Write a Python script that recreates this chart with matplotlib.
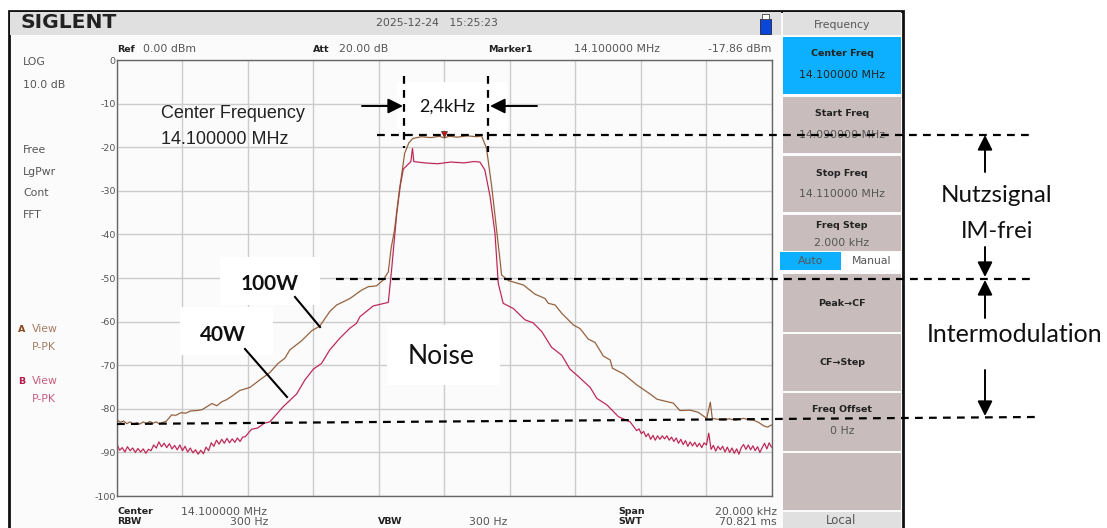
"""plot.py - spectrum analyzer screenshot of a 14.1 MHz SSB signal at 40 W and 100 W."""

import numpy as np
import matplotlib
matplotlib.use("Agg")
import matplotlib.pyplot as plt
from matplotlib.patches import Rectangle

W, H = 1107, 528

# trace A (100 W): offset from center in kHz / level in dBm
A_NOISE_L = [-82.5, -83.1, -82.8, -83.4, -83.0, -83.6, -83.2, -83.5, -83.0, -83.4,
             -82.9, -83.3, -83.0, -83.5, -83.1]
A_KHZ = [-8.5, -8.33, -8.2, -8.05, -7.9, -7.75, -7.56, -7.4, -7.25, -7.1, -6.95, -6.8, -6.65,
         -6.45, -6.25, -5.94, -5.64, -5.33, -5.08, -4.87, -4.72, -4.36, -4.05, -3.8, -3.5,
         -3.29, -2.88, -2.53, -2.32, -2.07, -1.87, -1.71, -1.62, -1.52, -1.37, -1.21, -1.08,
         -0.96, -0.7, -0.4, -0.15, 0.0, 0.15, 0.4, 0.7, 1.0, 1.14, 1.29, 1.45, 1.6, 1.72,
         1.75, 1.96, 2.42, 2.77, 3.08, 3.18, 3.39, 3.59, 3.95, 4.15, 4.4, 4.61, 4.86, 5.07,
         5.14, 5.48, 5.88, 6.29, 6.5, 7.0, 7.2, 7.51, 7.76, 8.02, 8.13, 8.19, 8.35, 8.53,
         8.7, 8.9, 9.14, 9.3, 9.45, 9.6, 9.76, 9.88, 10.0]
A_DBM = [-82.9, -81.4, -81.5, -80.9, -81.0, -80.5, -80.4, -80.2, -79.5, -78.8, -79.3, -78.4,
         -77.9, -76.9, -75.8, -75.1, -73.4, -71.7, -69.6, -68.4, -66.5, -64.4, -62.1, -61.0,
         -57.7, -56.2, -54.7, -52.8, -52.0, -51.8, -50.5, -48.6, -43.0, -39.0, -30.0, -21.4,
         -19.0, -18.0, -17.6, -17.8, -17.5, -17.86, -17.5, -17.7, -17.4, -17.6, -17.4, -20.2,
         -29.0, -39.0, -47.0, -49.3, -50.6, -51.6, -53.7, -54.7, -55.8, -56.2, -58.1, -60.8,
         -61.6, -64.0, -64.8, -67.9, -68.8, -70.7, -72.0, -74.5, -76.6, -77.8, -78.7, -80.4,
         -80.3, -80.8, -82.2, -78.5, -82.2, -82.4, -82.6, -82.3, -82.6, -82.2, -82.5, -82.6,
         -83.1, -83.9, -84.2, -83.7]

# trace B (40 W)
B_NOISE_L = [-88.2, -89.5, -88.9, -89.9, -88.7, -89.6, -89.0, -90.0, -89.1, -89.9,
             -89.2, -90.2, -89.3, -89.6, -88.3, -89.0, -87.6, -88.7, -87.9, -88.9,
             -88.0, -89.2, -88.4, -89.4, -88.3, -89.6, -88.6, -89.9, -89.0, -90.1,
             -89.4, -90.4, -89.5, -90.3, -88.8, -89.6, -87.8, -88.6, -87.2, -88.1,
             -87.0, -87.9, -86.8, -87.8, -86.9, -87.7, -86.7, -87.5, -86.5, -86.4, -85.7]
B_KHZ = [-5.89, -5.7, -5.5, -5.33, -4.92, -4.51, -4.26, -4.0, -3.75, -3.5, -3.19, -2.88, -2.68,
         -2.58, -2.17, -1.71, -1.66, -1.61, -1.45, -1.35, -1.25, -1.02, -0.97, -0.93,
         -0.6, -0.2, 0.2, 0.6, 0.9, 1.09, 1.24, 1.4, 1.55, 1.65, 1.8, 2.11, 2.47, 2.72,
         2.98, 3.28, 3.59, 3.84, 4.1, 4.46, 4.66, 4.97, 5.32, 5.68]
B_DBM = [-84.7, -84.4, -83.3, -83.0, -79.5, -76.6, -73.4, -70.9, -69.6, -66.5, -63.8, -61.5,
         -60.4, -58.9, -56.4, -55.6, -52.0, -48.2, -35.0, -29.0, -25.0, -23.3, -20.3, -23.3,
         -23.6, -23.8, -23.4, -23.6, -23.3, -23.4, -25.2, -31.3, -39.7, -51.2, -55.8, -57.0,
         -59.6, -60.3, -62.3, -65.9, -67.7, -70.9, -72.6, -75.1, -77.6, -79.1, -81.8, -83.0]
B_NOISE_R = [-85.0, -84.6, -85.7, -85.2, -86.4, -85.7, -87.0, -86.1, -87.2, -86.2,
             -87.0, -86.2, -86.9, -86.2, -87.2, -86.5, -87.5, -86.7, -87.9, -87.0,
             -88.2, -87.3, -88.6, -87.6, -88.5, -87.7, -88.7, -87.9, -88.9, -87.8,
             -88.3, -85.6, -89.3, -88.4, -89.7, -88.6, -89.4, -88.6, -89.9, -88.8, -90.0,
             -89.0, -90.2, -89.2, -90.4, -88.9, -88.2, -89.3, -88.3, -89.4, -88.5,
             -89.6, -88.7, -90.0, -88.9, -87.9, -89.2, -87.8, -88.8]

Y_TICKS = [0, -10, -20, -30, -40, -50, -60, -70, -80, -90, -100]
X_TICKS = [-10, -8, -6, -4, -2, 0, 2, 4, 6, 8, 10]

SIDE_LABELS = ["LOG", "10.0 dB", "Free", "LgPwr", "Cont", "FFT"]
SOFTKEYS = [("Center Freq", "14.100000 MHz"), ("Start Freq", "14.090000 MHz"),
            ("Stop Freq", "14.110000 MHz"), ("Freq Step", "2.000 kHz"),
            ("Peak→CF", ""), ("CF→Step", ""), ("Freq Offset", "0 Hz"), ("", "")]

BROWN = "#8a5530"
RED = "#b8184a"
SCREEN = "#fbfbfb"
BAR = "#e0e0e0"
KEY = "#c8bcbc"
BLUE = "#0cb0ff"
INK = "#555555"
DARK = "#222222"


def screen_text(ax, x, y, s, size=7.8, color=INK, ha="left", weight="normal"):
    ax.text(x, y, s, fontsize=size, color=color, ha=ha, va="center", fontweight=weight)


def bold_text(ax, x, y, s, ha="left", color=DARK):
    screen_text(ax, x, y, s, size=6.8, color=color, ha=ha, weight="bold")


def main():
    plt.rcParams["axes.unicode_minus"] = False
    fig = plt.figure(figsize=(W / 100, H / 100), dpi=100, facecolor="white")

    # instrument screen, pixel coordinates
    bg = fig.add_axes([0, 0, 1, 1], zorder=0)
    bg.set_xlim(0, W)
    bg.set_ylim(H, 0)
    bg.axis("off")
    bg.add_patch(Rectangle((9, 11), 894, H, fc=SCREEN, ec="#111111", lw=2))
    bg.add_patch(Rectangle((10, 12), 771, 23, fc=BAR, ec="none"))
    bg.add_patch(Rectangle((783, 12), 118, 23, fc=BAR, ec="none"))
    bg.text(21, 23, "SIGLENT", fontsize=14.6, fontweight="bold", color=DARK, va="center")
    screen_text(bg, 376, 23, "2025-12-24   15:25:23", size=7.8)
    bg.add_patch(Rectangle((760, 19), 11, 15, fc="#0a46d8", ec="#222244", lw=0.6))
    bg.add_patch(Rectangle((762, 14), 7, 5, fc="white", ec="#444444", lw=0.6))
    screen_text(bg, 842, 25, "Frequency", ha="center")

    for lab, y in zip(SIDE_LABELS, [62, 85, 150, 172, 193, 215]):
        screen_text(bg, 23, y, lab)
    bold_text(bg, 18, 329, "A", color="#8a4a20")
    screen_text(bg, 32, 329, "View", color="#a67c62")
    screen_text(bg, 32, 347, "P-PK", color="#a67c62")
    bold_text(bg, 18, 381, "B", color=RED)
    screen_text(bg, 32, 381, "View", color="#c75f7f")
    screen_text(bg, 32, 399, "P-PK", color="#c75f7f")

    bold_text(bg, 117, 49, "Ref")
    screen_text(bg, 143, 49, "0.00 dBm")
    bold_text(bg, 313, 49, "Att")
    screen_text(bg, 339, 49, "20.00 dB")
    bold_text(bg, 488, 49, "Marker1")
    screen_text(bg, 574, 49, "14.100000 MHz")
    screen_text(bg, 771, 49, "-17.86 dBm", ha="right")
    bold_text(bg, 117, 512, "Center")
    screen_text(bg, 181, 512, "14.100000 MHz")
    bold_text(bg, 117, 522, "RBW")
    screen_text(bg, 230, 522, "300 Hz")
    bold_text(bg, 378, 522, "VBW")
    screen_text(bg, 469, 522, "300 Hz")
    bold_text(bg, 618, 512, "Span")
    screen_text(bg, 777, 512, "20.000 kHz", ha="right")
    bold_text(bg, 618, 522, "SWT")
    screen_text(bg, 777, 522, "70.821 ms", ha="right")

    # softkeys
    tops = [37, 97, 156, 215, 274, 334, 393, 453]
    bottoms = [94, 153, 212, 251, 332, 391, 451, 510]
    for i, (title, value) in enumerate(SOFTKEYS):
        bg.add_patch(Rectangle((783, tops[i]), 118, bottoms[i] - tops[i],
                               fc=BLUE if i == 0 else KEY, ec="none"))
        if not value:
            bold_text(bg, 842, (tops[i] + bottoms[i]) / 2, title, ha="center")
        elif i == 3:
            bold_text(bg, 842, 225, title, ha="center")
            screen_text(bg, 842, 243, value, ha="center")
        else:
            bold_text(bg, 842, tops[i] + 17, title, ha="center")
            screen_text(bg, 842, tops[i] + 38, value, ha="center",
                        color=DARK if i == 0 else INK)
    bg.add_patch(Rectangle((780, 252), 61, 18, fc=BLUE, ec="none"))
    bg.add_patch(Rectangle((843, 252), 56, 18, fc="white", ec="none"))
    screen_text(bg, 811, 261, "Auto", ha="center")
    screen_text(bg, 872, 261, "Manual", ha="center")
    bg.add_patch(Rectangle((783, 512), 118, 16, fc=BAR, ec="none"))
    screen_text(bg, 841, 521, "Local", size=8.5, ha="center")

    # spectrum
    ax = fig.add_axes([117 / W, 1 - 496 / H, 654.5 / W, 436 / H], zorder=1, facecolor=SCREEN)
    ax.set_xlim(-10, 10)
    ax.set_ylim(-100, 0)
    ax.set_xticks(X_TICKS)
    ax.set_yticks(Y_TICKS)
    ax.set_xticklabels([])
    ax.tick_params(length=0, labelsize=6.8, labelcolor="#555555", pad=1)
    ax.grid(True, color="#cccccc", linewidth=1)
    ax.set_axisbelow(True)
    for s in ax.spines.values():
        s.set_color("#666666")
        s.set_linewidth(1)

    a_x = np.concatenate([np.linspace(-10, -8.6, len(A_NOISE_L)), A_KHZ])
    a_y = np.concatenate([A_NOISE_L, A_DBM])
    b_x = np.concatenate([np.linspace(-10, -6, len(B_NOISE_L)), B_KHZ,
                          np.linspace(5.88, 10, len(B_NOISE_R))])
    b_y = np.concatenate([B_NOISE_L, B_DBM, B_NOISE_R])
    for x, y, c in [(b_x, b_y, RED), (a_x, a_y, BROWN)]:
        ax.plot(x, y, color=c, linewidth=1.4, alpha=0.18)
        ax.plot(x, y, color=c, linewidth=0.7)
    ax.plot([0], [-16.9], marker="v", color="#d01010", markeredgecolor="#222222",
            markersize=4.5, markeredgewidth=0.4, clip_on=False)

    # annotations pasted on top
    top = fig.add_axes([0, 0, 1, 1], zorder=2)
    top.set_xlim(0, W)
    top.set_ylim(H, 0)
    top.axis("off")
    top.patch.set_alpha(0)
    for x, y, w, h in [(397, 82, 110, 48), (220, 257, 100, 48), (180, 307, 93, 48),
                       (387, 325, 113, 60)]:
        top.add_patch(Rectangle((x, y), w, h, fc="white", ec="none"))

    dash = dict(color="black", linewidth=1.6, dashes=(3.5, 2.8))
    top.plot([377, 1030], [135, 135], **dash)
    top.plot([336, 1030], [279, 279], **dash)
    top.plot([117, 1035], [424, 417], **dash)
    top.plot([404, 404], [76, 148], **dash)
    top.plot([488, 488], [76, 152], **dash)

    arrow = dict(arrowstyle="-|>,head_width=0.45,head_length=0.9", color="black",
                 linewidth=1.4, shrinkA=0, shrinkB=0)
    for tail, tip in [((362, 106), (403, 106)), ((537, 106), (490, 106)),
                      ((985, 172), (985, 135)), ((985, 247), (985, 277)),
                      ((985, 318), (985, 280)), ((985, 370), (985, 416))]:
        top.annotate("", xy=tip, xytext=tail, arrowprops=arrow)
    top.plot([295, 320], [297, 327], color="black", linewidth=1.5)
    top.plot([245, 287], [349, 397], color="black", linewidth=1.5)

    top.text(161, 114, "Center Frequency", fontsize=13, family="Liberation Sans",
             color="#222222", va="center")
    top.text(161, 139, "14.100000 MHz", fontsize=13, family="Liberation Sans",
             color="#222222", va="center")
    for x, y, s, size, weight in [(447, 107, "2,4kHz", 13, "normal"),
                                  (270, 284, "100W", 15, "bold"),
                                  (223, 335, "40W", 15, "bold"),
                                  (441, 356, "Noise", 19, "normal"),
                                  (997, 195, "Nutzsignal", 17.4, "normal"),
                                  (997, 232, "IM-frei", 17, "normal"),
                                  (1015, 335, "Intermodulation", 18, "normal")]:
        top.text(x, y, s, fontsize=size, fontweight=weight, family="Lato", color="#111111",
                 ha="center", va="center")

    fig.savefig("out.png", dpi=100, facecolor="white")


if __name__ == "__main__":
    main()
